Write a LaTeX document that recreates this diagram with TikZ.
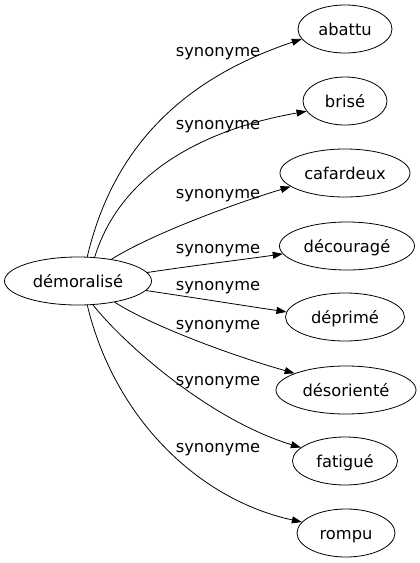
\documentclass[tikz,border=0pt]{standalone}
\usepackage{fontspec}
\setmainfont{DejaVu Sans}
\usetikzlibrary{shapes.geometric,arrows.meta}
\begin{document}
\begin{tikzpicture}[x=1pt,y=-1pt,
  word/.style={draw,ellipse,line width=0.8pt,inner sep=0pt,minimum height=48pt,
    font=\fontsize{16.3}{18}\selectfont,text height=15pt,text depth=1.6pt},
  rel/.style={line width=0.8pt,-{Triangle[length=10pt,width=7pt]}},
  lab/.style={anchor=base,inner sep=0pt,font=\fontsize{16.3}{18}\selectfont}]
\useasboundingbox (0,0) rectangle (420,563);
\node[word,minimum width=147pt] (dem) at (78,281) {démoralisé};
\node[word,minimum width=94pt] (abattu) at (345,29) {abattu};
\node[word,minimum width=84pt] (brise) at (345,101) {brisé};
\node[word,minimum width=130pt] (cafardeux) at (345,173) {cafardeux};
\node[word,minimum width=135pt] (decourage) at (347,246) {découragé};
\node[word,minimum width=119pt] (deprime) at (345,317) {déprimé};
\node[word,minimum width=140pt] (desoriente) at (346,390) {désorienté};
\node[word,minimum width=105pt] (fatigue) at (345,461) {fatigué};
\node[word,minimum width=98pt] (rompu) at (346,533) {rompu};
\draw[rel] (dem.69) .. controls (118,125) and (210,70) .. (abattu.193);
\draw[rel] (dem.55) .. controls (120,175) and (200,130) .. (brise.195);
\draw[rel] (dem.33) .. controls (150,235) and (230,205) .. (cafardeux.194);
\draw[rel] (dem.7) .. controls (190,266) and (240,260) .. (decourage.187);
\draw[rel] (dem.-8) .. controls (190,297) and (240,305) .. (deprime.175);
\draw[rel] (dem.-30) .. controls (150,325) and (230,355) .. (desoriente.162);
\draw[rel] (dem.-58) .. controls (125,345) and (210,420) .. (fatigue.163);
\draw[rel] (dem.-69) .. controls (115,420) and (200,500) .. (rompu.166);
\node[lab] (l1) at (218,56) {synonyme};
\node[lab] (l2) at (218,129.5) {synonyme};
\node[lab] (l3) at (218,198) {synonyme};
\node[lab] (l4) at (218,253.5) {synonyme};
\node[lab] (l5) at (218,290.5) {synonyme};
\node[lab] (l6) at (218,329.5) {synonyme};
\node[lab] (l7) at (218,385.5) {synonyme};
\node[lab] (l8) at (218,452.5) {synonyme};
\end{tikzpicture}
\end{document}
